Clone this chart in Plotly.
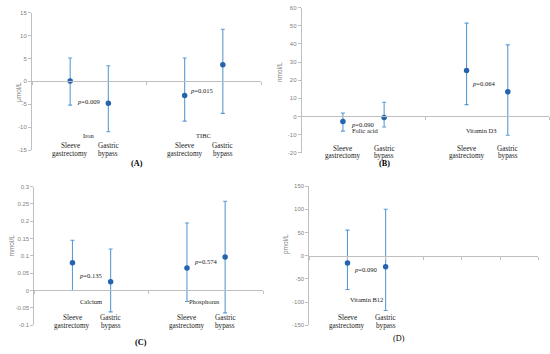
import plotly.graph_objects as go

W, H = 550, 354

# ---------------- data ----------------
positions = [1, 2, 4, 5]   # sleeve / bypass for two analytes
groups = ["Sleeve gastrectomy", "Gastric bypass", "Sleeve gastrectomy", "Gastric bypass"]

a_mean = [0.1, -4.8, -3.1, 3.6]
a_upper = [5.1, 3.4, 5.1, 11.4]
a_lower = [-5.2, -11.0, -8.7, -7.0]
a_analytes = ["Iron", "TIBC"]
a_p = ["0.009", "0.015"]
a_ticks = [-15, -10, -5, 0, 5, 10, 15]

b_mean = [-2.8, -0.6, 25.3, 13.6]
b_upper = [1.9, 7.8, 51.5, 39.5]
b_lower = [-8.1, -5.8, 6.5, -10.4]
b_analytes = ["Folic acid", "Vitamin D3"]
b_p = ["0.090", "0.064"]
b_ticks = [-20, -10, 0, 10, 20, 30, 40, 50, 60]

c_mean = [0.080, 0.025, 0.065, 0.097]
c_upper = [0.145, 0.120, 0.195, 0.258]
c_lower = [0.000, -0.062, -0.032, -0.065]
c_analytes = ["Calcium", "Phosphorus"]
c_p = ["0.135", "0.574"]
c_ticks = [-0.1, -0.05, 0, 0.05, 0.1, 0.15, 0.2, 0.25, 0.3]
c_ticktext = ["-0.1", "-0.05", "0", "0.05", "0.1", "0.15", "0.2", "0.25", "0.3"]

d_positions = [1, 2]
d_mean = [-16.0, -24.0]
d_upper = [55.0, 100.0]
d_lower = [-73.0, -118.0]
d_analytes = ["Vitamin B12"]
d_p = ["0.090"]
d_ticks = [-150, -100, -50, 0, 50, 100, 150]

# ---------------- style ----------------
DOT = "#2464AE"
BAR = "#5B9BD5"
AXC = "#BFBFBF"
TICKC = "#7F7F7F"
TXT = "#1a1a1a"
SERIF = "Liberation Serif"
SANS = "Liberation Sans"


def px(x, y):
    return x / W, 1 - y / H


panels = [
    dict(k="", xd=(32, 261), yd=(12.7, 150), yr=(-15, 15), pos=positions, m=a_mean, u=a_upper, l=a_lower,
         ticks=a_ticks, tt=[str(t) for t in a_ticks], title="μmol/L", tpos=(13, 80), letter="(A)", lpos=(129, 163), bold=True,
         an=a_analytes, anx=[1.5, 4.5], p=a_p, ppos=[(1.5, -4.3), (4.45, -2.1)], any=135, suby=(146, 153.5), xt=[0, 3, 6]),
    dict(k="2", xd=(301.7, 549), yd=(7.7, 152.7), yr=(-20, 60), pos=positions, m=b_mean, u=b_upper, l=b_lower,
         ticks=b_ticks, tt=[str(t) for t in b_ticks], title="nmol/L", tpos=(279, 60), letter="(B)", lpos=(392, 163.5), bold=True,
         an=b_analytes, anx=[1.54, 4.35], p=b_p, ppos=[(1.49, -4.2), (4.42, 18.4)], any=130, suby=(148.5, 156), xt=[0, 3, 6]),
    dict(k="3", xd=(34.3, 263.3), yd=(186.7, 325), yr=(-0.1, 0.3), pos=positions, m=c_mean, u=c_upper, l=c_lower,
         ticks=c_ticks, tt=c_ticktext, title="mmol/L", tpos=(5, 259), letter="(C)", lpos=(133, 348.5), bold=True,
         an=c_analytes, anx=[1.49, 4.47], p=c_p, ppos=[(1.49, 0.044), (4.5, 0.084)], any=307, suby=(323.7, 331.5), xt=[0, 3, 6]),
    dict(k="4", xd=(309.3, 538.3), yd=(186, 325.3), yr=(-150, 150), pos=d_positions, m=d_mean, u=d_upper, l=d_lower,
         ticks=d_ticks, tt=[str(t) for t in d_ticks], title="pmol/L", tpos=(286, 256), letter="(D)", lpos=(406.7, 345.3), bold=False,
         an=d_analytes, anx=[1.51], p=d_p, ppos=[(1.49, -29)], any=304.7, suby=(323.7, 331.5), xt=[0, 1, 2, 3, 4, 5, 6]),
]

fig = go.Figure()
annotations = []
layout = {}

for pnl in panels:
    k = pnl["k"]
    xa, ya = "x" + k, "y" + k
    up = [u - m for u, m in zip(pnl["u"], pnl["m"])]
    dn = [m - l for m, l in zip(pnl["m"], pnl["l"])]
    fig.add_trace(go.Scatter(
        x=pnl["pos"], y=pnl["m"], mode="markers", xaxis=xa, yaxis=ya,
        marker=dict(color=DOT, size=5.5),
        error_y=dict(type="data", symmetric=False, array=up, arrayminus=dn,
                     color=BAR, thickness=1.1, width=2),
        showlegend=False, hoverinfo="skip", cliponaxis=False))

    x0, x1 = pnl["xd"]
    yt, yb = pnl["yd"]
    xdom = [x0 / W, x1 / W]
    ydom = [1 - yb / H, 1 - yt / H]
    r0, r1 = pnl["yr"]
    zero_pos = ydom[0] + (0 - r0) / (r1 - r0) * (ydom[1] - ydom[0])

    layout["xaxis" + k] = dict(domain=xdom, range=[0, 6], anchor="free", position=zero_pos,
                               showline=True, linecolor=AXC, linewidth=1, ticks="outside",
                               tickvals=pnl["xt"], ticklen=3, tickcolor=AXC, showticklabels=False,
                               showgrid=False, zeroline=False, fixedrange=True, automargin=False)
    layout["yaxis" + k] = dict(domain=ydom, range=[r0, r1], anchor=xa, showline=True,
                               linecolor=AXC, linewidth=1, ticks="outside", ticklen=3, tickcolor=AXC,
                               tickvals=pnl["ticks"], ticktext=pnl["tt"],
                               tickfont=dict(family=SANS, size=6, color=TICKC),
                               showgrid=False, zeroline=False, fixedrange=True, automargin=False)

    tx, ty = px(*pnl["tpos"])
    annotations.append(dict(text=pnl["title"], x=tx, y=ty, xref="paper", yref="paper",
                            textangle=-90, showarrow=False,
                            font=dict(family=SANS, size=6.5, color=TICKC)))
    lx, ly = px(*pnl["lpos"])
    lt = "<b>%s</b>" % pnl["letter"] if pnl["bold"] else pnl["letter"]
    annotations.append(dict(text=lt, x=lx, y=ly, xref="paper", yref="paper", showarrow=False,
                            font=dict(family=SERIF, size=8.2, color="#000000")))
    _, any_ = px(0, pnl["any"])
    for name, ax_ in zip(pnl["an"], pnl["anx"]):
        annotations.append(dict(text=name, x=ax_, y=any_, xref=xa, yref="paper", showarrow=False,
                                font=dict(family=SERIF, size=6.5, color=TXT)))
    _, s1 = px(0, pnl["suby"][0])
    _, s2 = px(0, pnl["suby"][1])
    for xpos, g in zip(pnl["pos"], groups):
        first, second = g.split(" ")
        annotations.append(dict(text=first, x=xpos, y=s1, xref=xa, yref="paper", showarrow=False,
                                font=dict(family=SERIF, size=7.2, color=TXT)))
        annotations.append(dict(text=second, x=xpos, y=s2, xref=xa, yref="paper", showarrow=False,
                                font=dict(family=SERIF, size=7.2, color=TXT)))
    for pv, (ppx, ppy) in zip(pnl["p"], pnl["ppos"]):
        annotations.append(dict(text="<i>p</i>=" + pv, x=ppx, y=ppy, xref=xa, yref=ya, showarrow=False,
                                font=dict(family=SERIF, size=6.6, color=TXT)))

fig.update_layout(**layout)
fig.update_layout(width=W, height=H, margin=dict(l=0, r=0, t=0, b=0, pad=0, autoexpand=False),
                  paper_bgcolor="white", plot_bgcolor="white",
                  annotations=annotations, showlegend=False)

fig.write_html("out.html", config={"displayModeBar": False},
               post_script="document.body.style.margin='0';document.body.style.padding='0';")
